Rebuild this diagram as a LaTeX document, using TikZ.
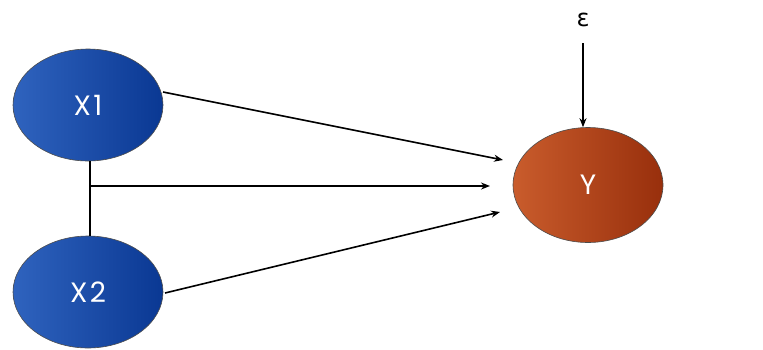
\documentclass[tikz,border=0pt]{standalone}
\usepackage{fontspec}
\setmainfont{Poppins}[LetterSpace=8]
\newfontfamily\symfont{DejaVu Sans}
\usetikzlibrary{arrows.meta,shapes.geometric}
\definecolor{bluelight}{HTML}{2F63BE}
\definecolor{bluedark}{HTML}{0A3893}
\definecolor{redlight}{HTML}{C95C2C}
\definecolor{reddark}{HTML}{982F0C}
\tikzset{
  varnode/.style={ellipse, minimum width=150pt, minimum height=112pt, inner sep=0pt,
    draw=gray!60!black, line width=0.6pt, text=white, font=\fontsize{28}{28}\selectfont},
  bluenode/.style={varnode, left color=bluelight, right color=bluedark},
  rednode/.style={varnode, left color=redlight, right color=reddark},
  conn/.style={line width=1.6pt, black},
  arr/.style={conn, -{Stealth[length=9pt,width=7pt]}},
}
\begin{document}
\begin{tikzpicture}[x=1pt,y=-1pt]
\useasboundingbox (0,0) rectangle (763,349);
\node[bluenode] (x1) at (88,105) {X1};
\node[bluenode] (x2) at (88,292) {X2};
\node[rednode, minimum height=115pt] (y) at (588,185) {Y};
\node[font=\symfont\fontsize{24}{24}\selectfont, inner sep=0pt] (eps) at (583,20) {ε};
\coordinate (s1) at (163,92);
\coordinate (s3) at (165,293);
\coordinate (t1) at (503,160);
\coordinate (t2) at (490,186);
\coordinate (t3) at (500,212);
\coordinate (e1) at (583,43);
\coordinate (j) at (90,186);
\draw[arr] (s1) -- (t1);
\draw[conn] (x1.south -| j) -- (x2.north -| j);
\draw[arr] (j) -- (t2);
\draw[arr] (s3) -- (t3);
\draw[arr] (e1) -- (y.north -| e1);
\end{tikzpicture}
\end{document}
